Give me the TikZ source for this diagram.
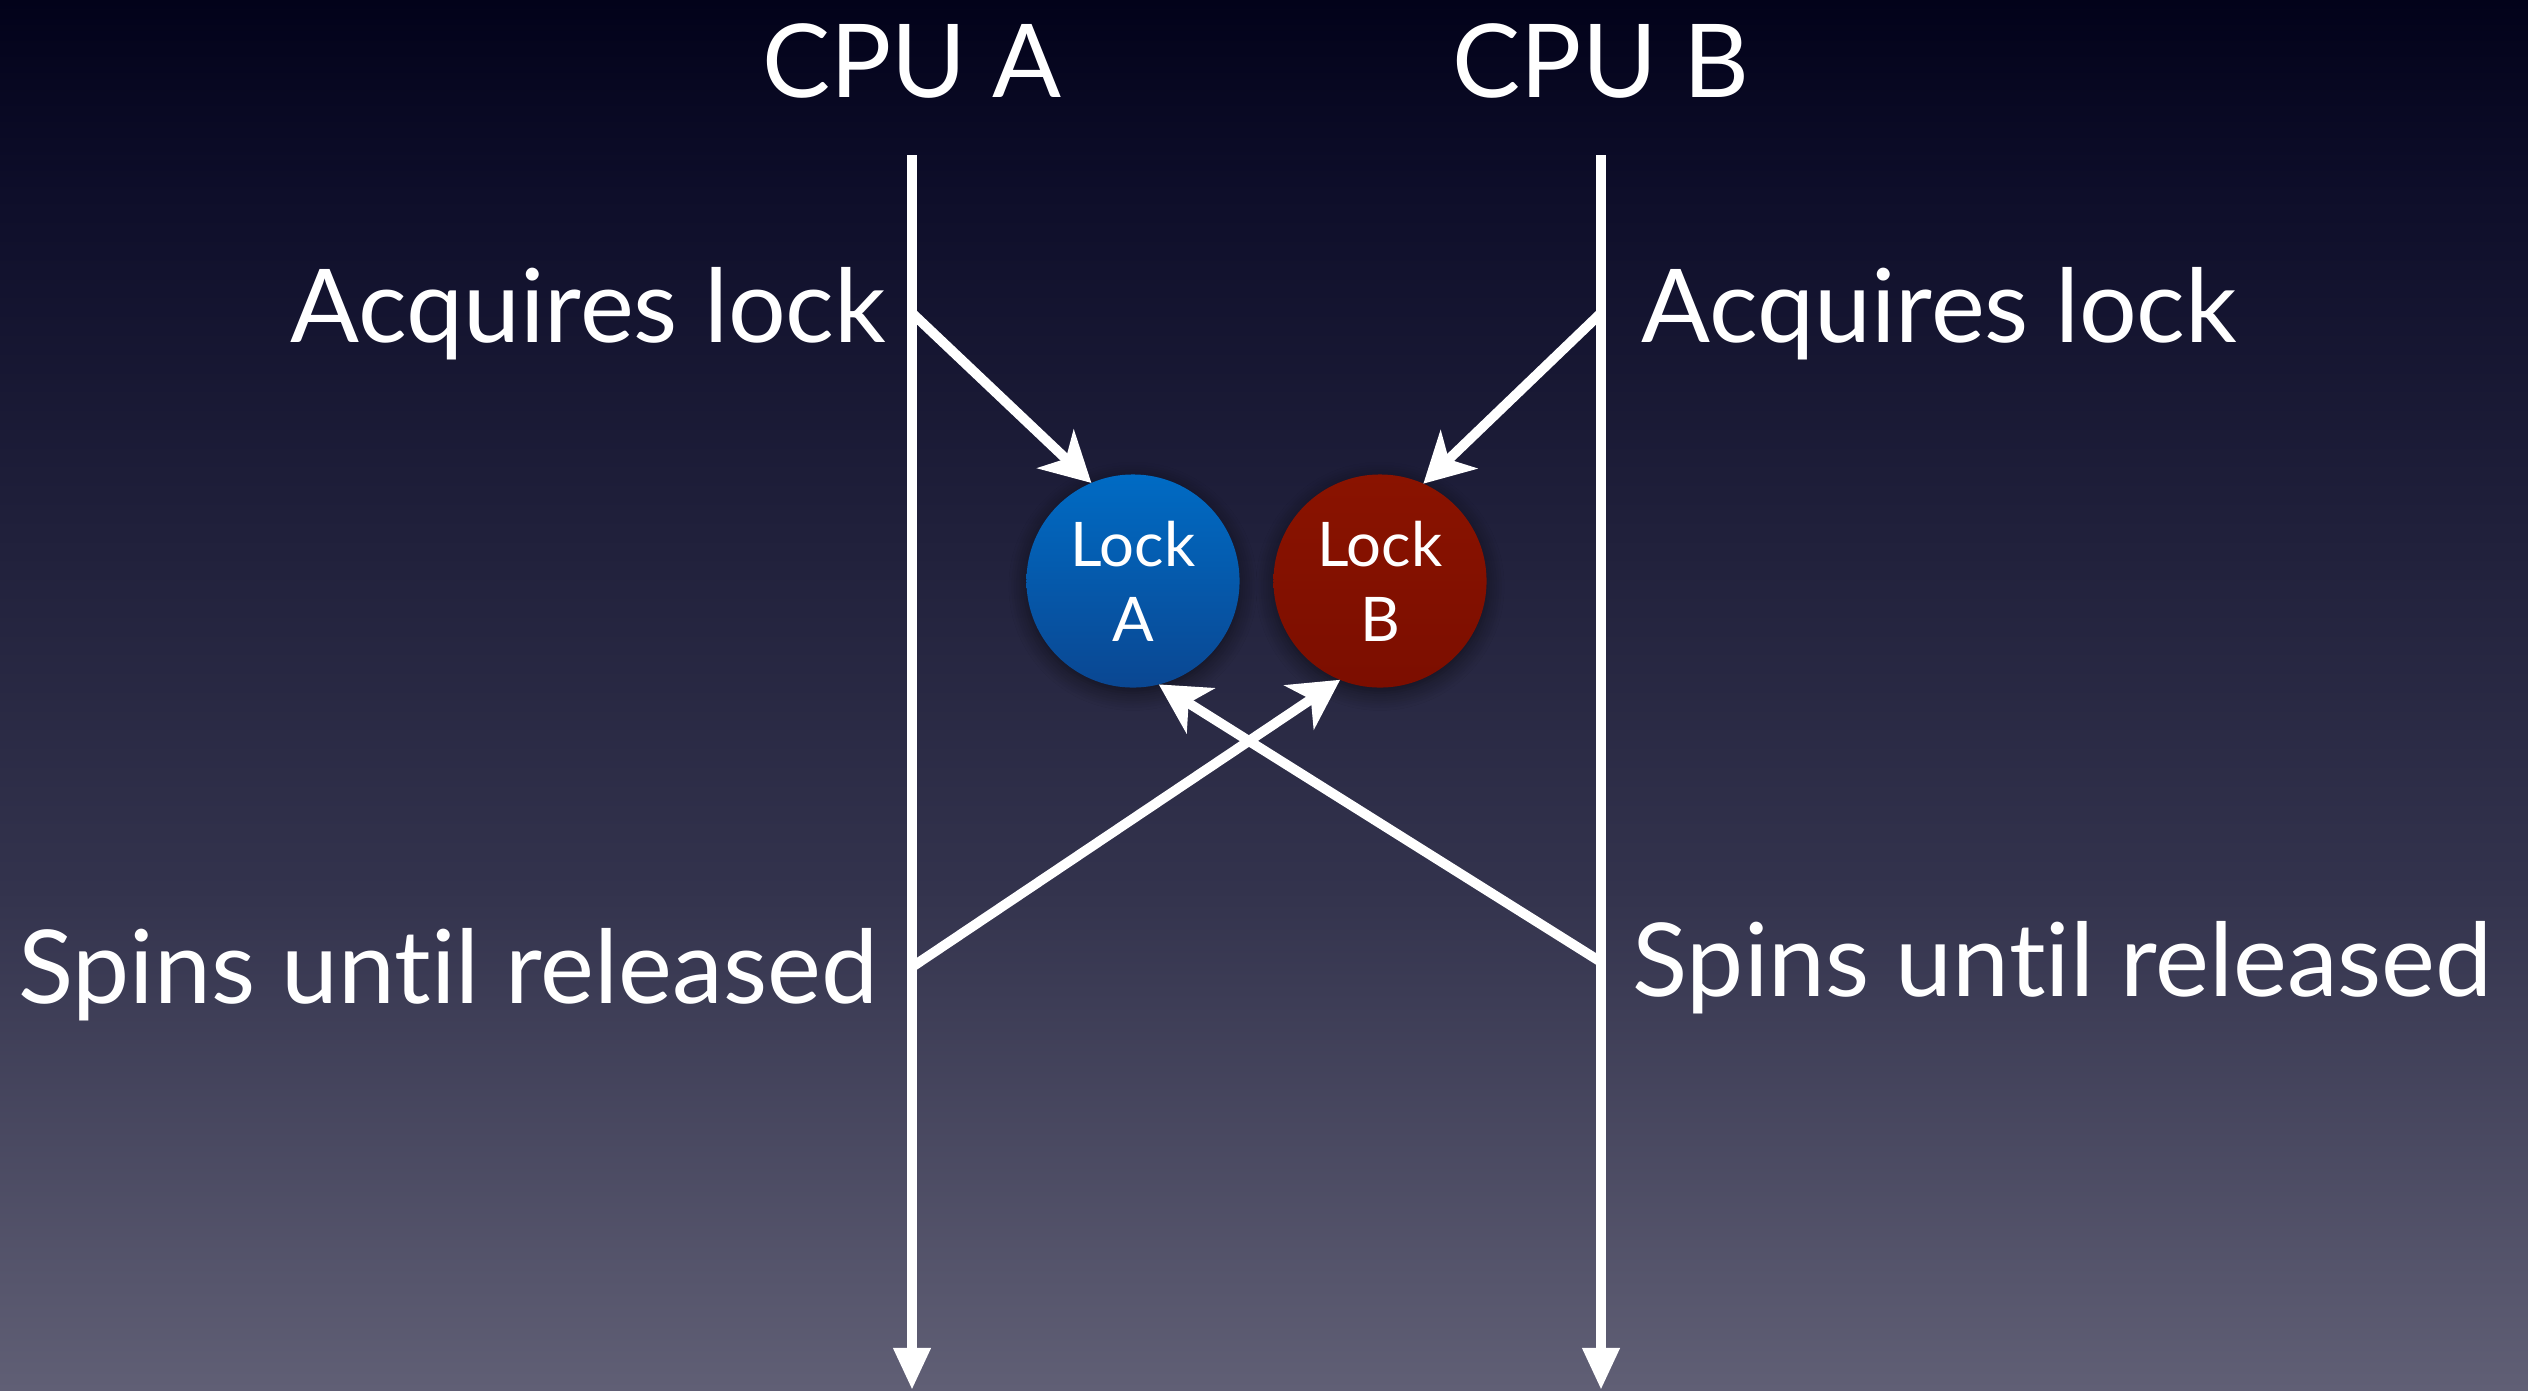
\documentclass[tikz,border=0pt]{standalone}
\usepackage{fontspec}
\setmainfont{Lato}[Ligatures=NoCommon]
\usetikzlibrary{arrows.meta,shadows.blur}

\definecolor{bgtop}{HTML}{02021A}
\definecolor{bgupper}{HTML}{0E0E2A}
\definecolor{bgmid}{HTML}{33334D}
\definecolor{bgbot}{HTML}{605F75}
\definecolor{lockAtop}{HTML}{006BC4}
\definecolor{lockAbot}{HTML}{0A4792}
\definecolor{lockBtop}{HTML}{8A1300}
\definecolor{lockBbot}{HTML}{7C0E00}

% the middle 50bp of the shading cover the background rectangle
\pgfdeclareverticalshading{slidebg}{100bp}{
  color(0bp)=(bgbot); color(25bp)=(bgbot); color(43bp)=(bgmid);
  color(68bp)=(bgupper); color(75bp)=(bgtop); color(100bp)=(bgtop)}

\tikzset{
  bigtext/.style={text=white, font=\fontsize{29}{34}\selectfont, inner sep=0pt},
  lockcircle/.style={circle, minimum size=2.13cm, inner sep=0pt, outer sep=0pt,
    text=white, align=center, font=\fontsize{17.5}{21.3}\selectfont,
    blur shadow={shadow xshift=0pt, shadow yshift=-1.5pt, shadow blur steps=8,
      shadow blur radius=5pt, shadow opacity=55}},
  timeline/.style={white, line width=2.8pt, -{Triangle[width=10pt,length=12pt]}},
  lockarrow/.style={white, line width=2.8pt, -{Stealth[width=15pt,length=14pt,inset=4pt]}}
}

\begin{document}
\begin{tikzpicture}[x=0.01cm, y=-0.01cm]
  % background
  \shade[shading=slidebg] (0,0) rectangle (2528,1390);
  \useasboundingbox (0,0) rectangle (2528,1390);

  % CPU headings
  \node[bigtext, anchor=base] (cpuA) at (912,97) {CPU A};
  \node[bigtext, anchor=base] (cpuB) at (1601,97) {CPU B};

  % timelines
  \coordinate (aTop) at (912,155);
  \coordinate (aEnd) at (912,1390);
  \coordinate (bTop) at (1601,155);
  \coordinate (bEnd) at (1601,1390);
  \draw[timeline] (aTop) -- (aEnd);
  \draw[timeline] (bTop) -- (bEnd);

  % event points on the timelines
  \coordinate (aAcq) at (912,313);
  \coordinate (bAcq) at (1601,313);
  \coordinate (aSpin) at (912,967);
  \coordinate (bSpin) at (1601,962);

  % labels
  \node[bigtext, anchor=base east] (acqA) at (887,342) {Acquires lock};
  \node[bigtext, anchor=base west] (acqB) at (1641,342) {Acquires lock};
  \node[bigtext, anchor=base east] (spinA) at (879,1003) {Spins until released};
  \node[bigtext, anchor=base west] (spinB) at (1632,996) {Spins until released};

  % locks
  \node[lockcircle, top color=lockAtop, bottom color=lockAbot] (lockA) at (1133,581) {Lock\\A};
  \node[lockcircle, top color=lockBtop, bottom color=lockBbot] (lockB) at (1380,581) {Lock\\B};

  % arrows to the locks
  \draw[lockarrow] (aAcq) -- (lockA.113);
  \draw[lockarrow] (bAcq) -- (lockB.66);
  \draw[lockarrow] (aSpin) -- (lockB.248);
  \draw[lockarrow] (bSpin) -- (lockA.284);
\end{tikzpicture}
\end{document}
